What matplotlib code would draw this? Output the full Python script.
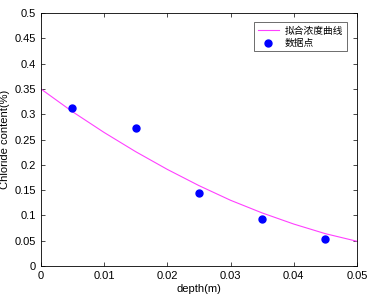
import matplotlib
matplotlib.use("Agg")
import matplotlib.pyplot as plt

plt.rcParams['font.family'] = ['Liberation Sans', 'Noto Sans CJK SC', 'DejaVu Sans']

# fitted concentration curve
fit_depth = [0, 0.005, 0.01, 0.015, 0.02, 0.025, 0.03, 0.035, 0.04, 0.045, 0.05]
fit_conc = [0.35, 0.305, 0.264, 0.226, 0.191, 0.159, 0.130, 0.105, 0.083, 0.064, 0.049]

# measured data points
pt_depth = [0.005, 0.015, 0.025, 0.035, 0.045]
pt_conc = [0.313, 0.273, 0.144, 0.093, 0.053]

fig = plt.figure(figsize=(3.68, 3.02), dpi=100)
ax = fig.add_axes([0.111, 0.119, 0.859, 0.838])

ax.plot(fit_depth, fit_conc, color='#ff40ff', lw=0.8, label='拟合浓度曲线')
ax.plot(pt_depth, pt_conc, 'o', color='#0000ff', ms=5, ls='none', label='数据点')

ax.set_xlim(0, 0.05)
ax.set_ylim(0, 0.5)
ax.set_xticks([0, 0.01, 0.02, 0.03, 0.04, 0.05])
ax.set_xticklabels(['0', '0.01', '0.02', '0.03', '0.04', '0.05'])
ax.set_yticks([0, 0.05, 0.1, 0.15, 0.2, 0.25, 0.3, 0.35, 0.4, 0.45, 0.5])
ax.set_yticklabels(['0', '0.05', '0.1', '0.15', '0.2', '0.25', '0.3', '0.35', '0.4', '0.45', '0.5'])
ax.tick_params(direction='in', top=True, right=True, labelsize=8, length=3, width=0.5)
for s in ax.spines.values():
    s.set_linewidth(0.6)

ax.set_xlabel('depth(m)', fontsize=8, labelpad=2)
ax.set_ylabel('Chloride content(%)', fontsize=8, labelpad=3)

leg = ax.legend(loc='upper right', bbox_to_anchor=(0.968, 0.964), borderaxespad=0,
                fontsize=7, fancybox=False, edgecolor='#555555', framealpha=1,
                handlelength=2.2, borderpad=0.35, labelspacing=0.25, handletextpad=0.6)
leg.get_frame().set_linewidth(0.6)

fig.savefig('out.png', dpi=100)
